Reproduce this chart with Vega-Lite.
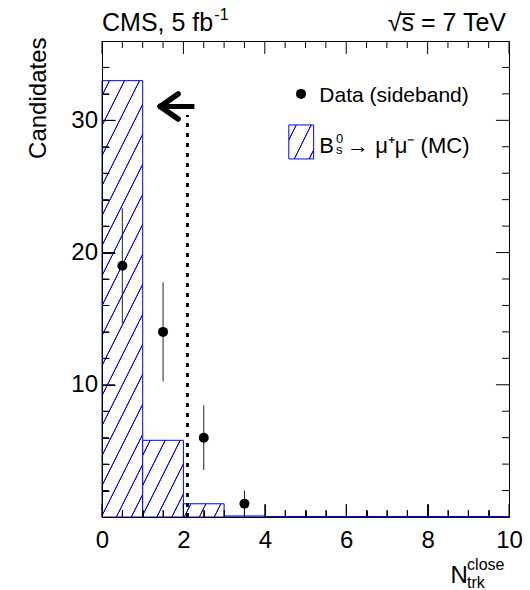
{
  "$schema": "https://vega.github.io/schema/vega-lite/v6.json",
  "width": 407,
  "height": 476,
  "autosize": "none",
  "padding": {"left": 102, "top": 41, "right": 21, "bottom": 73},
  "background": "white",
  "config": {
    "view": {"stroke": "black", "strokeWidth": 1},
    "font": "Liberation Sans",
    "axis": {"domainColor": "black", "tickColor": "black", "tickWidth": 1, "labelColor": "black", "labelFont": "Liberation Sans", "labelFontSize": 24, "titleFont": "Liberation Sans", "titleColor": "black", "titleFontWeight": "normal", "grid": false, "labelOverlap": false, "labelFlush": false},
    "text": {"font": "Liberation Sans", "color": "black"}
  },
  "data": {"values": [{}]},
  "datasets": {
    "mc": [
      {"lo": 0, "hi": 1, "n": 33},
      {"lo": 1, "hi": 2, "n": 5.8},
      {"lo": 2, "hi": 3, "n": 1.0},
      {"lo": 3, "hi": 4, "n": 0.08},
      {"lo": 4, "hi": 5, "n": 0.04},
      {"lo": 5, "hi": 6, "n": 0.04},
      {"lo": 6, "hi": 7, "n": 0.04},
      {"lo": 7, "hi": 8, "n": 0.04},
      {"lo": 8, "hi": 9, "n": 0.04},
      {"lo": 9, "hi": 10, "n": 0.04}
    ],
    "sideband": [
      {"x": 0.5, "n": 19, "lo": 14.64, "hi": 23.36},
      {"x": 1.5, "n": 14, "lo": 10.26, "hi": 17.74},
      {"x": 2.5, "n": 6, "lo": 3.55, "hi": 8.45},
      {"x": 3.5, "n": 1, "lo": 0, "hi": 2}
    ],
    "xticks": [
      {"v": 0}, {"v": 0.5}, {"v": 1}, {"v": 1.5}, {"v": 2}, {"v": 2.5}, {"v": 3}, {"v": 3.5}, {"v": 4}, {"v": 4.5}, {"v": 5},
      {"v": 5.5}, {"v": 6}, {"v": 6.5}, {"v": 7}, {"v": 7.5}, {"v": 8}, {"v": 8.5}, {"v": 9}, {"v": 9.5}, {"v": 10}
    ],
    "yticks": [
      {"v": 2}, {"v": 4}, {"v": 6}, {"v": 8}, {"v": 10}, {"v": 12}, {"v": 14}, {"v": 16}, {"v": 18}, {"v": 20},
      {"v": 22}, {"v": 24}, {"v": 26}, {"v": 28}, {"v": 30}, {"v": 32}, {"v": 34}
    ]
  },
  "layer": [
    {
      "data": {"name": "mc"},
      "transform": [{"filter": "datum.lo === 0"}],
      "mark": {"type": "rect", "stroke": "#0000ff", "strokeWidth": 1, "fill": {"gradient": "linear", "x1": 0, "y1": 0, "x2": 0.22314, "y2": 1.19603, "stops": [
        {"offset": 0, "color": "#ffffff"},
        {"offset": 0.024278, "color": "#ffffff"}, {"offset": 0.026578, "color": "#0000ff"}, {"offset": 0.028978, "color": "#0000ff"}, {"offset": 0.031278, "color": "#ffffff"},
        {"offset": 0.079833, "color": "#ffffff"}, {"offset": 0.082133, "color": "#0000ff"}, {"offset": 0.084533, "color": "#0000ff"}, {"offset": 0.086833, "color": "#ffffff"},
        {"offset": 0.135389, "color": "#ffffff"}, {"offset": 0.137689, "color": "#0000ff"}, {"offset": 0.140089, "color": "#0000ff"}, {"offset": 0.142389, "color": "#ffffff"},
        {"offset": 0.190944, "color": "#ffffff"}, {"offset": 0.193244, "color": "#0000ff"}, {"offset": 0.195644, "color": "#0000ff"}, {"offset": 0.197944, "color": "#ffffff"},
        {"offset": 0.2465, "color": "#ffffff"}, {"offset": 0.2488, "color": "#0000ff"}, {"offset": 0.2512, "color": "#0000ff"}, {"offset": 0.2535, "color": "#ffffff"},
        {"offset": 0.302056, "color": "#ffffff"}, {"offset": 0.304356, "color": "#0000ff"}, {"offset": 0.306756, "color": "#0000ff"}, {"offset": 0.309056, "color": "#ffffff"},
        {"offset": 0.357611, "color": "#ffffff"}, {"offset": 0.359911, "color": "#0000ff"}, {"offset": 0.362311, "color": "#0000ff"}, {"offset": 0.364611, "color": "#ffffff"},
        {"offset": 0.413167, "color": "#ffffff"}, {"offset": 0.415467, "color": "#0000ff"}, {"offset": 0.417867, "color": "#0000ff"}, {"offset": 0.420167, "color": "#ffffff"},
        {"offset": 0.468722, "color": "#ffffff"}, {"offset": 0.471022, "color": "#0000ff"}, {"offset": 0.473422, "color": "#0000ff"}, {"offset": 0.475722, "color": "#ffffff"},
        {"offset": 0.524278, "color": "#ffffff"}, {"offset": 0.526578, "color": "#0000ff"}, {"offset": 0.528978, "color": "#0000ff"}, {"offset": 0.531278, "color": "#ffffff"},
        {"offset": 0.579833, "color": "#ffffff"}, {"offset": 0.582133, "color": "#0000ff"}, {"offset": 0.584533, "color": "#0000ff"}, {"offset": 0.586833, "color": "#ffffff"},
        {"offset": 0.635389, "color": "#ffffff"}, {"offset": 0.637689, "color": "#0000ff"}, {"offset": 0.640089, "color": "#0000ff"}, {"offset": 0.642389, "color": "#ffffff"},
        {"offset": 0.690944, "color": "#ffffff"}, {"offset": 0.693244, "color": "#0000ff"}, {"offset": 0.695644, "color": "#0000ff"}, {"offset": 0.697944, "color": "#ffffff"},
        {"offset": 0.7465, "color": "#ffffff"}, {"offset": 0.7488, "color": "#0000ff"}, {"offset": 0.7512, "color": "#0000ff"}, {"offset": 0.7535, "color": "#ffffff"},
        {"offset": 0.802056, "color": "#ffffff"}, {"offset": 0.804356, "color": "#0000ff"}, {"offset": 0.806756, "color": "#0000ff"}, {"offset": 0.809056, "color": "#ffffff"},
        {"offset": 0.857611, "color": "#ffffff"}, {"offset": 0.859911, "color": "#0000ff"}, {"offset": 0.862311, "color": "#0000ff"}, {"offset": 0.864611, "color": "#ffffff"},
        {"offset": 0.913167, "color": "#ffffff"}, {"offset": 0.915467, "color": "#0000ff"}, {"offset": 0.917867, "color": "#0000ff"}, {"offset": 0.920167, "color": "#ffffff"},
        {"offset": 0.968722, "color": "#ffffff"}, {"offset": 0.971022, "color": "#0000ff"}, {"offset": 0.973422, "color": "#0000ff"}, {"offset": 0.975722, "color": "#ffffff"},
        {"offset": 1, "color": "#ffffff"}
      ]}},
      "encoding": {
        "x": {"field": "lo", "type": "quantitative", "scale": {"domain": [0, 10], "nice": false, "zero": false},
          "axis": {"orient": "bottom", "zindex": 2, "values": [0, 0.5, 1, 1.5, 2, 2.5, 3, 3.5, 4, 4.5, 5, 5.5, 6, 6.5, 7, 7.5, 8, 8.5, 9, 9.5, 10],
            "tickSize": {"condition": {"test": "datum.value % 2 === 0", "value": -13}, "value": -7},
            "labelExpr": "datum.value % 2 === 0 ? format(datum.value, 'd') : ''", "labelPadding": 24, "title": null}},
        "x2": {"field": "hi"},
        "y": {"field": "n", "type": "quantitative", "scale": {"domain": [0, 36], "nice": false, "zero": false},
          "axis": {"orient": "left", "zindex": 2, "values": [0, 2, 4, 6, 8, 10, 12, 14, 16, 18, 20, 22, 24, 26, 28, 30, 32, 34, 36],
            "tickSize": {"condition": {"test": "datum.value % 10 === 0", "value": -13}, "value": -7},
            "labelExpr": "datum.value % 10 === 0 && datum.value > 0 ? format(datum.value, 'd') : ''", "labelPadding": 17.5,
            "title": "Candidates", "titleFontSize": 24, "titleAngle": -90, "titleX": -57, "titleY": -4, "titleAlign": "right", "titleBaseline": "alphabetic"}},
        "y2": {"datum": 0}
      }
    },
    {
      "data": {"name": "mc"},
      "transform": [{"filter": "datum.lo === 1"}],
      "mark": {"type": "rect", "stroke": "#0000ff", "strokeWidth": 1, "fill": {"gradient": "linear", "x1": 0, "y1": 0, "x2": 3.5139, "y2": 3.3111, "stops": [
        {"offset": 0, "color": "#ffffff"},
        {"offset": 0.024278, "color": "#ffffff"}, {"offset": 0.026578, "color": "#0000ff"}, {"offset": 0.028978, "color": "#0000ff"}, {"offset": 0.031278, "color": "#ffffff"},
        {"offset": 0.079833, "color": "#ffffff"}, {"offset": 0.082133, "color": "#0000ff"}, {"offset": 0.084533, "color": "#0000ff"}, {"offset": 0.086833, "color": "#ffffff"},
        {"offset": 0.135389, "color": "#ffffff"}, {"offset": 0.137689, "color": "#0000ff"}, {"offset": 0.140089, "color": "#0000ff"}, {"offset": 0.142389, "color": "#ffffff"},
        {"offset": 0.190944, "color": "#ffffff"}, {"offset": 0.193244, "color": "#0000ff"}, {"offset": 0.195644, "color": "#0000ff"}, {"offset": 0.197944, "color": "#ffffff"},
        {"offset": 0.2465, "color": "#ffffff"}, {"offset": 0.2488, "color": "#0000ff"}, {"offset": 0.2512, "color": "#0000ff"}, {"offset": 0.2535, "color": "#ffffff"},
        {"offset": 0.302056, "color": "#ffffff"}, {"offset": 0.304356, "color": "#0000ff"}, {"offset": 0.306756, "color": "#0000ff"}, {"offset": 0.309056, "color": "#ffffff"},
        {"offset": 1, "color": "#ffffff"}
      ]}},
      "encoding": {
        "x": {"field": "lo", "type": "quantitative", "axis": null},
        "x2": {"field": "hi"},
        "y": {"field": "n", "type": "quantitative", "axis": null},
        "y2": {"datum": 0}
      }
    },
    {
      "data": {"name": "mc"},
      "transform": [{"filter": "datum.lo === 2"}],
      "mark": {"type": "rect", "stroke": "#0000ff", "strokeWidth": 1, "fill": {"gradient": "linear", "x1": 0, "y1": 0, "x2": 6.4634, "y2": 1.0497, "stops": [
        {"offset": 0, "color": "#ffffff"},
        {"offset": 0.024278, "color": "#ffffff"}, {"offset": 0.026578, "color": "#0000ff"}, {"offset": 0.028978, "color": "#0000ff"}, {"offset": 0.031278, "color": "#ffffff"},
        {"offset": 0.079833, "color": "#ffffff"}, {"offset": 0.082133, "color": "#0000ff"}, {"offset": 0.084533, "color": "#0000ff"}, {"offset": 0.086833, "color": "#ffffff"},
        {"offset": 0.135389, "color": "#ffffff"}, {"offset": 0.137689, "color": "#0000ff"}, {"offset": 0.140089, "color": "#0000ff"}, {"offset": 0.142389, "color": "#ffffff"},
        {"offset": 0.190944, "color": "#ffffff"}, {"offset": 0.193244, "color": "#0000ff"}, {"offset": 0.195644, "color": "#0000ff"}, {"offset": 0.197944, "color": "#ffffff"},
        {"offset": 1, "color": "#ffffff"}
      ]}},
      "encoding": {
        "x": {"field": "lo", "type": "quantitative", "axis": null},
        "x2": {"field": "hi"},
        "y": {"field": "n", "type": "quantitative", "axis": null},
        "y2": {"datum": 0}
      }
    },
    {
      "data": {"name": "mc"},
      "transform": [{"filter": "datum.lo >= 3"}],
      "mark": {"type": "rect", "fill": null, "stroke": "#0000ff", "strokeWidth": 1},
      "encoding": {
        "x": {"field": "lo", "type": "quantitative", "axis": null},
        "x2": {"field": "hi"},
        "y": {"field": "n", "type": "quantitative", "axis": null},
        "y2": {"datum": 0}
      }
    },
    {
      "data": {"name": "xticks"},
      "transform": [{"filter": "datum.v % 2 === 0"}],
      "mark": {"type": "rule", "color": "black", "strokeWidth": 1},
      "encoding": {"x": {"field": "v", "type": "quantitative", "axis": null}, "y": {"datum": 0, "type": "quantitative", "axis": null}, "y2": {"datum": 0.98}}
    },
    {
      "data": {"name": "xticks"},
      "transform": [{"filter": "datum.v % 2 !== 0"}],
      "mark": {"type": "rule", "color": "black", "strokeWidth": 1},
      "encoding": {"x": {"field": "v", "type": "quantitative", "axis": null}, "y": {"datum": 0, "type": "quantitative", "axis": null}, "y2": {"datum": 0.53}}
    },
    {
      "data": {"name": "xticks"},
      "transform": [{"filter": "datum.v % 2 === 0"}],
      "mark": {"type": "rule", "color": "black", "strokeWidth": 1},
      "encoding": {"x": {"field": "v", "type": "quantitative", "axis": null}, "y": {"datum": 36, "type": "quantitative", "axis": null}, "y2": {"datum": 35.02}}
    },
    {
      "data": {"name": "xticks"},
      "transform": [{"filter": "datum.v % 2 !== 0"}],
      "mark": {"type": "rule", "color": "black", "strokeWidth": 1},
      "encoding": {"x": {"field": "v", "type": "quantitative", "axis": null}, "y": {"datum": 36, "type": "quantitative", "axis": null}, "y2": {"datum": 35.47}}
    },
    {
      "data": {"name": "yticks"},
      "transform": [{"filter": "datum.v % 10 === 0"}],
      "mark": {"type": "rule", "color": "black", "strokeWidth": 1},
      "encoding": {"y": {"field": "v", "type": "quantitative", "axis": null}, "x": {"datum": 0, "type": "quantitative", "axis": null}, "x2": {"datum": 0.32}}
    },
    {
      "data": {"name": "yticks"},
      "transform": [{"filter": "datum.v % 10 !== 0"}],
      "mark": {"type": "rule", "color": "black", "strokeWidth": 1},
      "encoding": {"y": {"field": "v", "type": "quantitative", "axis": null}, "x": {"datum": 0, "type": "quantitative", "axis": null}, "x2": {"datum": 0.17}}
    },
    {
      "data": {"name": "yticks"},
      "transform": [{"filter": "datum.v % 10 === 0"}],
      "mark": {"type": "rule", "color": "black", "strokeWidth": 1},
      "encoding": {"y": {"field": "v", "type": "quantitative", "axis": null}, "x": {"datum": 10, "type": "quantitative", "axis": null}, "x2": {"datum": 9.68}}
    },
    {
      "data": {"name": "yticks"},
      "transform": [{"filter": "datum.v % 10 !== 0"}],
      "mark": {"type": "rule", "color": "black", "strokeWidth": 1},
      "encoding": {"y": {"field": "v", "type": "quantitative", "axis": null}, "x": {"datum": 10, "type": "quantitative", "axis": null}, "x2": {"datum": 9.83}}
    },
    {
      "mark": {"type": "rule", "color": "black", "strokeWidth": 2.8, "strokeDash": [4, 6]},
      "encoding": {
        "x": {"datum": 2.1, "type": "quantitative", "axis": null},
        "y": {"datum": 0, "type": "quantitative", "axis": null},
        "y2": {"datum": 30.4}
      }
    },
    {
      "mark": {"type": "rule", "color": "black", "strokeWidth": 5},
      "encoding": {
        "x": {"datum": 1.45, "type": "quantitative", "axis": null},
        "x2": {"datum": 2.27},
        "y": {"datum": 31.05, "type": "quantitative", "axis": null}
      }
    },
    {
      "mark": {"type": "rule", "color": "black", "strokeWidth": 5.5, "strokeCap": "round"},
      "encoding": {
        "x": {"datum": 1.43, "type": "quantitative", "axis": null},
        "x2": {"datum": 1.87},
        "y": {"datum": 31.05, "type": "quantitative", "axis": null},
        "y2": {"datum": 32.0}
      }
    },
    {
      "mark": {"type": "rule", "color": "black", "strokeWidth": 5.5, "strokeCap": "round"},
      "encoding": {
        "x": {"datum": 1.43, "type": "quantitative", "axis": null},
        "x2": {"datum": 1.87},
        "y": {"datum": 31.05, "type": "quantitative", "axis": null},
        "y2": {"datum": 30.1}
      }
    },
    {
      "data": {"name": "sideband"},
      "mark": {"type": "rule", "color": "#222222", "strokeWidth": 1},
      "encoding": {
        "x": {"field": "x", "type": "quantitative", "axis": null},
        "y": {"field": "lo", "type": "quantitative", "axis": null},
        "y2": {"field": "hi"}
      }
    },
    {
      "data": {"name": "sideband"},
      "mark": {"type": "point", "shape": "circle", "filled": true, "color": "black", "opacity": 1, "size": 100},
      "encoding": {
        "x": {"field": "x", "type": "quantitative", "axis": null},
        "y": {"field": "n", "type": "quantitative", "axis": null}
      }
    },
    {
      "mark": {"type": "point", "shape": "circle", "filled": true, "color": "black", "opacity": 1, "size": 100},
      "encoding": {
        "x": {"datum": 4.89, "type": "quantitative", "axis": null},
        "y": {"datum": 32.0, "type": "quantitative", "axis": null}
      }
    },
    {
      "mark": {"type": "text", "text": "Data (sideband)", "fontSize": 21, "align": "left", "baseline": "alphabetic"},
      "encoding": {
        "x": {"datum": 5.34, "type": "quantitative", "axis": null},
        "y": {"datum": 31.4, "type": "quantitative", "axis": null}
      }
    },
    {
      "mark": {"type": "rect", "stroke": "#0000ff", "strokeWidth": 1, "fill": {"gradient": "linear", "x1": 0, "y1": 0, "x2": 7.3846, "y2": 5.0215, "stops": [
        {"offset": 0, "color": "#ffffff"},
        {"offset": 0.024278, "color": "#ffffff"}, {"offset": 0.026578, "color": "#0000ff"}, {"offset": 0.028978, "color": "#0000ff"}, {"offset": 0.031278, "color": "#ffffff"},
        {"offset": 0.079833, "color": "#ffffff"}, {"offset": 0.082133, "color": "#0000ff"}, {"offset": 0.084533, "color": "#0000ff"}, {"offset": 0.086833, "color": "#ffffff"},
        {"offset": 0.135389, "color": "#ffffff"}, {"offset": 0.137689, "color": "#0000ff"}, {"offset": 0.140089, "color": "#0000ff"}, {"offset": 0.142389, "color": "#ffffff"},
        {"offset": 0.190944, "color": "#ffffff"}, {"offset": 0.193244, "color": "#0000ff"}, {"offset": 0.195644, "color": "#0000ff"}, {"offset": 0.197944, "color": "#ffffff"},
        {"offset": 1, "color": "#ffffff"}
      ]}},
      "encoding": {
        "x": {"datum": 4.59, "type": "quantitative", "axis": null},
        "x2": {"datum": 5.2},
        "y": {"datum": 29.65, "type": "quantitative", "axis": null},
        "y2": {"datum": 27.08}
      }
    },
    {
      "mark": {"type": "text", "text": "B", "fontSize": 22, "align": "left", "baseline": "alphabetic"},
      "encoding": {
        "x": {"datum": 5.34, "type": "quantitative", "axis": null},
        "y": {"datum": 27.5, "type": "quantitative", "axis": null}
      }
    },
    {
      "mark": {"type": "text", "text": "0", "fontSize": 13, "align": "left", "baseline": "alphabetic"},
      "encoding": {
        "x": {"datum": 5.75, "type": "quantitative", "axis": null},
        "y": {"datum": 28.3, "type": "quantitative", "axis": null}
      }
    },
    {
      "mark": {"type": "text", "text": "s", "fontSize": 13, "align": "left", "baseline": "alphabetic"},
      "encoding": {
        "x": {"datum": 5.75, "type": "quantitative", "axis": null},
        "y": {"datum": 27.45, "type": "quantitative", "axis": null}
      }
    },
    {
      "mark": {"type": "text", "text": "→ μ⁺μ⁻ (MC)", "fontSize": 22, "align": "left", "baseline": "alphabetic"},
      "encoding": {
        "x": {"datum": 6.02, "type": "quantitative", "axis": null},
        "y": {"datum": 27.5, "type": "quantitative", "axis": null}
      }
    },
    {
      "mark": {"type": "text", "text": "CMS, 5 fb", "fontSize": 25, "align": "left", "baseline": "alphabetic"},
      "encoding": {
        "x": {"datum": 0, "type": "quantitative", "axis": null},
        "y": {"datum": 36.76, "type": "quantitative", "axis": null}
      }
    },
    {
      "mark": {"type": "text", "text": "-1", "fontSize": 16, "align": "left", "baseline": "alphabetic"},
      "encoding": {
        "x": {"datum": 2.76, "type": "quantitative", "axis": null},
        "y": {"datum": 37.6, "type": "quantitative", "axis": null}
      }
    },
    {
      "mark": {"type": "text", "text": "√s̅ = 7 TeV", "fontSize": 25, "align": "right", "baseline": "alphabetic", "dx": -3},
      "encoding": {
        "x": {"datum": 10, "type": "quantitative", "axis": null},
        "y": {"datum": 36.76, "type": "quantitative", "axis": null}
      }
    },
    {
      "mark": {"type": "text", "text": "N", "fontSize": 24, "align": "left", "baseline": "alphabetic"},
      "encoding": {
        "x": {"datum": 8.56, "type": "quantitative", "axis": null},
        "y": {"datum": -4.99, "type": "quantitative", "axis": null}
      }
    },
    {
      "mark": {"type": "text", "text": "close", "fontSize": 16, "align": "left", "baseline": "alphabetic"},
      "encoding": {
        "x": {"datum": 8.97, "type": "quantitative", "axis": null},
        "y": {"datum": -4.0, "type": "quantitative", "axis": null}
      }
    },
    {
      "mark": {"type": "text", "text": "trk", "fontSize": 16, "align": "left", "baseline": "alphabetic"},
      "encoding": {
        "x": {"datum": 8.97, "type": "quantitative", "axis": null},
        "y": {"datum": -5.4, "type": "quantitative", "axis": null}
      }
    }
  ],
  "resolve": {"axis": {"x": "independent", "y": "independent"}}
}
